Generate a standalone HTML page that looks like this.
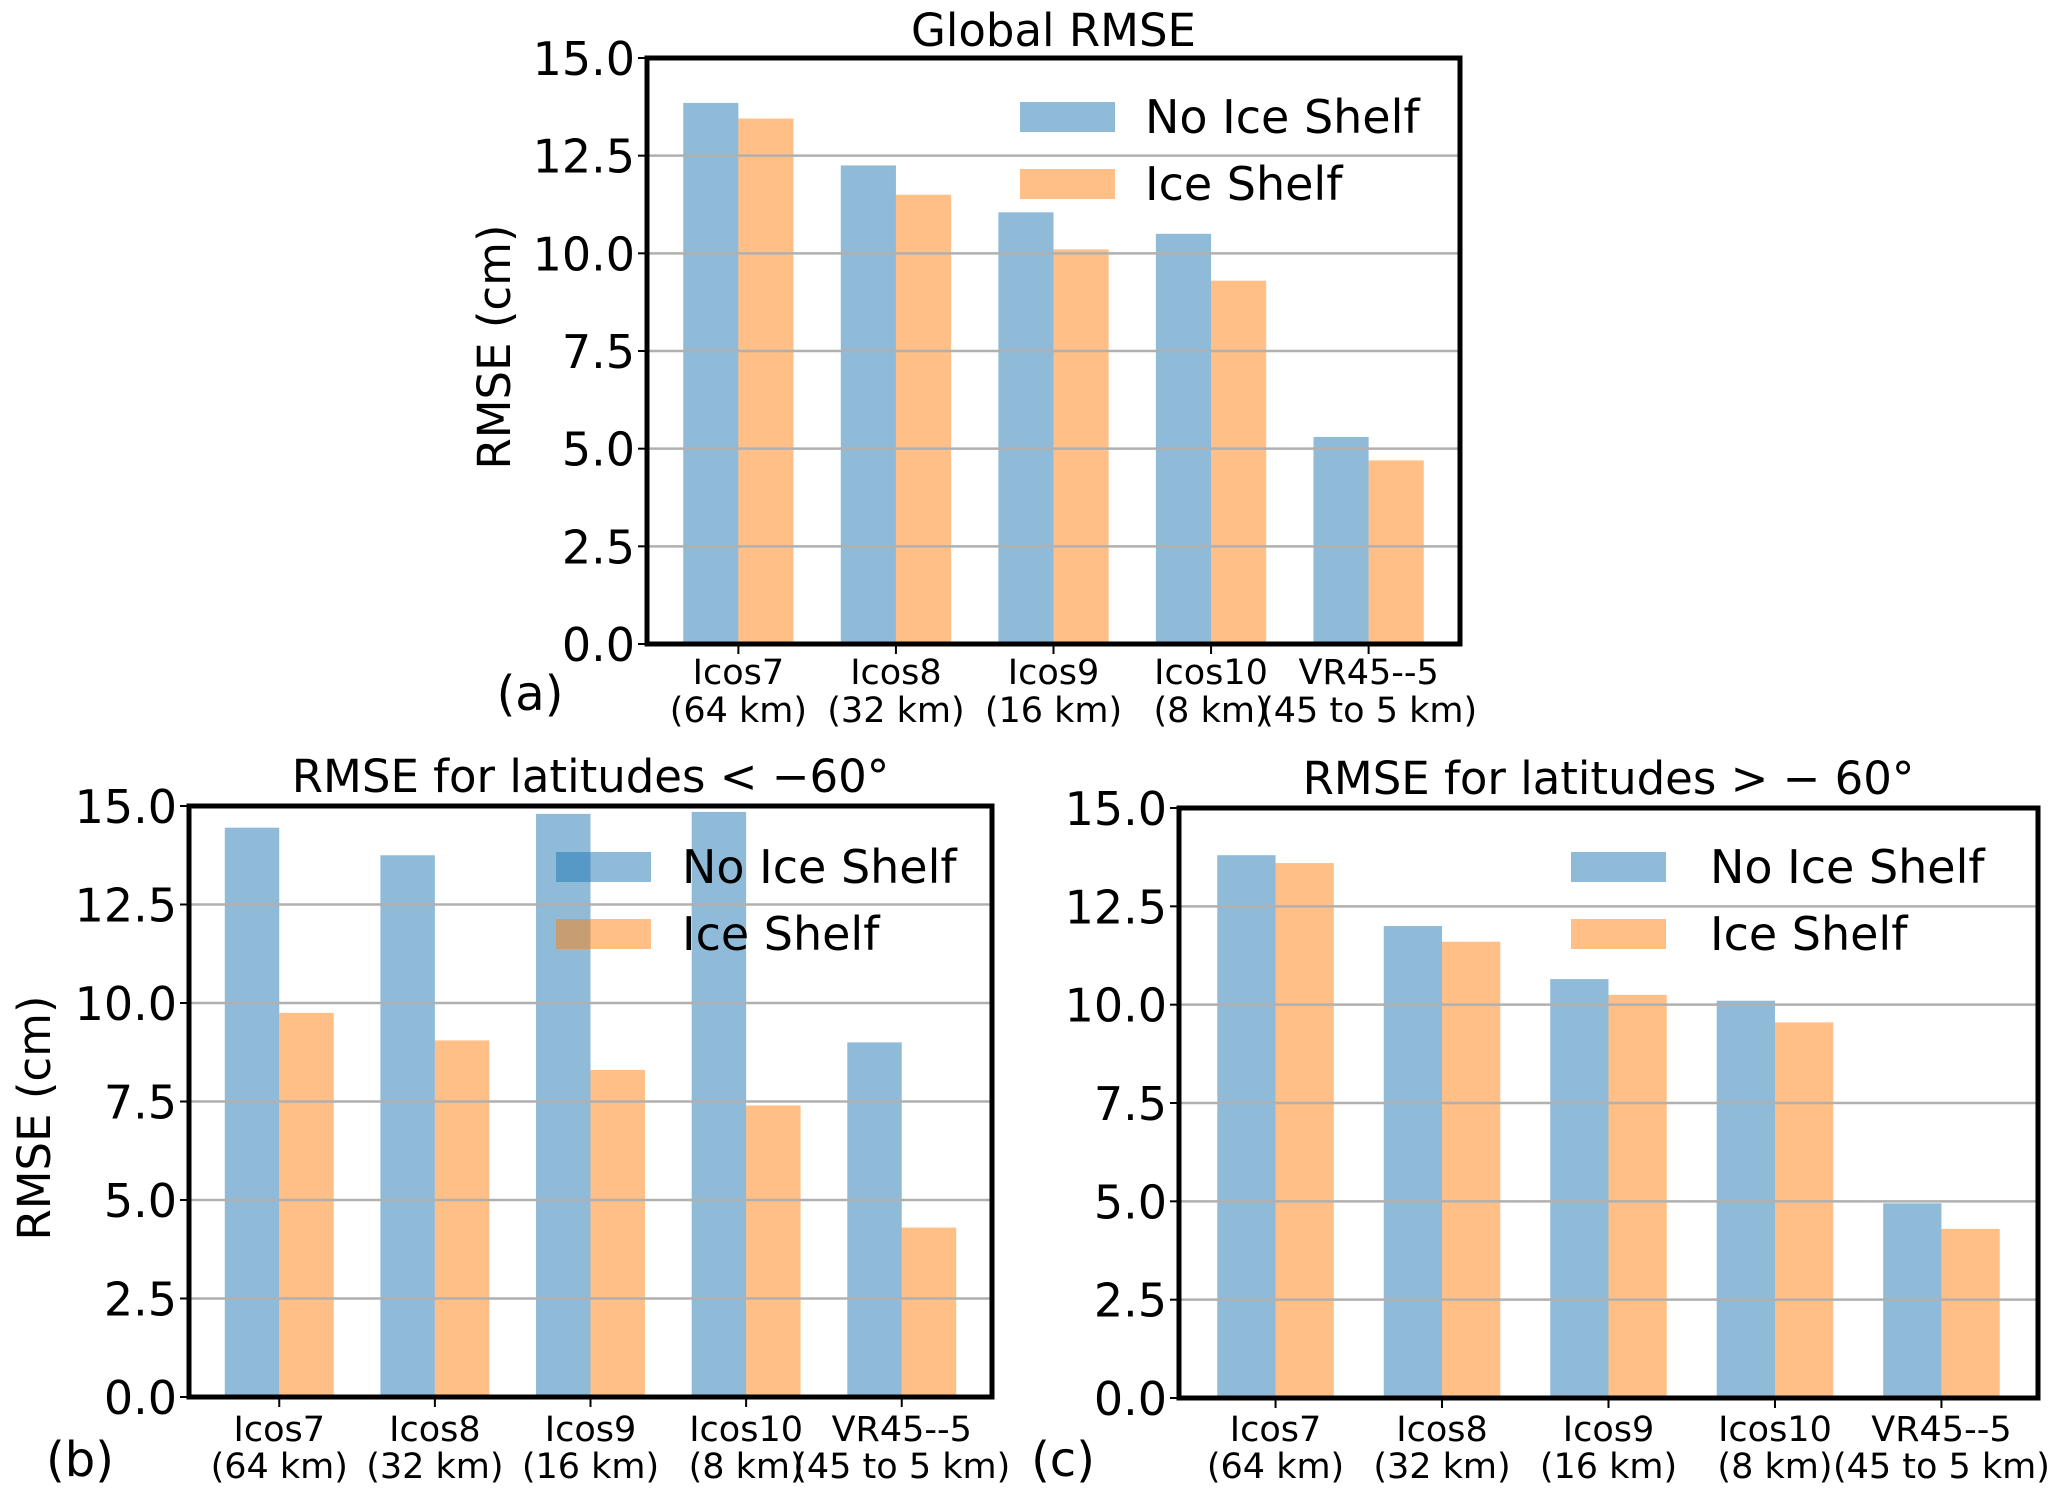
<!DOCTYPE html>
<html><head><meta charset="utf-8"><style>
html,body{margin:0;padding:0;background:#fff;}
svg{display:block;font-family:"DejaVu Sans","Liberation Sans",sans-serif;}
</style></head><body>
<svg id="fig" width="2067" height="1492" viewBox="0 0 2067 1492" xmlns="http://www.w3.org/2000/svg"></svg>
<script>
const categories = ["Icos7|(64 km)", "Icos8|(32 km)", "Icos9|(16 km)", "Icos10|(8 km)", "VR45--5|(45 to 5 km)"];
const yTicks = [0, 2.5, 5, 7.5, 10, 12.5, 15];
const yTickLabels = ["0.0", "2.5", "5.0", "7.5", "10.0", "12.5", "15.0"];
const globalNoIce = [13.85, 12.25, 11.05, 10.5, 5.3];
const globalIce = [13.45, 11.5, 10.1, 9.3, 4.7];
const southNoIce = [14.45, 13.75, 14.8, 14.85, 9.0];
const southIce = [9.75, 9.05, 8.3, 7.4, 4.3];
const northNoIce = [13.8, 12.0, 10.65, 10.1, 4.95];
const northIce = [13.6, 11.6, 10.25, 9.55, 4.3];

const NS = "http://www.w3.org/2000/svg";
const svg = document.getElementById("fig");
function mk(tag, attrs, parent, text) {
  const e = document.createElementNS(NS, tag);
  for (const k in attrs) e.setAttribute(k, attrs[k]);
  if (text !== undefined) e.textContent = text;
  (parent || svg).appendChild(e);
  return e;
}

const panels = [
  {id:"a", L:647, R:1460, T:58, B:644, title:"Global RMSE", titleY:46, blue:globalNoIce, orange:globalIce,
   leg:{x:1020, y1:102, y2:169, tx:1145}, ylab:{x:510, y:347}, plab:{x:530, y:710}, lab1:684, lab2:722},
  {id:"b", L:189, R:992, T:806, B:1397, title:"RMSE for latitudes  < \u221260\u00b0", titleY:792, blue:southNoIce, orange:southIce,
   leg:{x:556, y1:852, y2:919, tx:682}, ylab:{x:50, y:1118}, plab:{x:80, y:1476}, lab1:1441, lab2:1478},
  {id:"c", L:1179, R:2038, T:808, B:1398, title:"RMSE for latitudes  > \u2212 60\u00b0", titleY:794, blue:northNoIce, orange:northIce,
   leg:{x:1571, y1:852, y2:919, tx:1710}, ylab:null, plab:{x:1063, y:1476}, lab1:1441, lab2:1478}
];

panels.forEach(p => {
  const g = mk("g", {});
  
  
  const xmin = -0.58, xmax = 4.58;
  const xs = v => p.L + (v - xmin) / (xmax - xmin) * (p.R - p.L);
  const ys = v => p.B - v / 15 * (p.B - p.T);
  const w = 0.35;
  p.blue.forEach((v, i) => {
    const r = mk("rect", {x: xs(i - w), y: ys(v), width: xs(i) - xs(i - w), height: p.B - ys(v), fill: "#1f77b4", "fill-opacity": 0.5}, g);
    
    
  });
  p.orange.forEach((v, i) => {
    const r = mk("rect", {x: xs(i), y: ys(v), width: xs(i + w) - xs(i), height: p.B - ys(v), fill: "#ff7f0e", "fill-opacity": 0.5}, g);
    
    
  });
  yTicks.forEach((t, i) => {
    const y = ys(t);
    if (i > 0 && i < yTicks.length - 1) {
      const gl = mk("line", {x1: p.L, x2: p.R, y1: y, y2: y, stroke: "#b0b0b0", "stroke-width": 2.5}, g);
      
      
    }
    mk("line", {x1: p.L - 9, x2: p.L, y1: y, y2: y, stroke: "#000", "stroke-width": 2}, g);
    const tl = mk("text", {x: p.L - 12, y: y + 17, "text-anchor": "end", "font-size": 46, fill: "#000"}, g, yTickLabels[i]);
    
    
  });
  categories.forEach((c, i) => {
    const x = xs(i);
    mk("line", {x1: x, x2: x, y1: p.B, y2: p.B + 10, stroke: "#000", "stroke-width": 2}, g);
    const parts = c.split("|");
    const t1 = mk("text", {x: x, y: p.lab1, "text-anchor": "middle", "font-size": 35}, g, parts[0]);
    
    
    const t2 = mk("text", {x: x, y: p.lab2, "text-anchor": "middle", "font-size": 35}, g, parts[1]);
    
    
  });
  const fr = mk("rect", {x: p.L, y: p.T, width: p.R - p.L, height: p.B - p.T, fill: "none", stroke: "#000", "stroke-width": 5}, g);
  
  
  const ti = mk("text", {x: (p.L + p.R) / 2, y: p.titleY, "text-anchor": "middle", "font-size": 45}, g, p.title);
  
  
  const lg = mk("g", {}, g);
  
  
  mk("rect", {x: p.leg.x, y: p.leg.y1, width: 95, height: 30, fill: "#1f77b4", "fill-opacity": 0.5}, lg);
  mk("text", {x: p.leg.tx, y: p.leg.y1 + 31, "font-size": 46}, lg, "No Ice Shelf");
  mk("rect", {x: p.leg.x, y: p.leg.y2, width: 95, height: 30, fill: "#ff7f0e", "fill-opacity": 0.5}, lg);
  mk("text", {x: p.leg.tx, y: p.leg.y2 + 31, "font-size": 46}, lg, "Ice Shelf");
  if (p.ylab) {
    const yl = mk("text", {x: p.ylab.x, y: p.ylab.y, "text-anchor": "middle", "font-size": 45, transform: "rotate(-90 " + p.ylab.x + " " + p.ylab.y + ")"}, g, "RMSE (cm)");
    
    
  }
  const pl = mk("text", {x: p.plab.x, y: p.plab.y, "text-anchor": "middle", "font-size": 48}, g, "(" + p.id + ")");
  
  
});
</script>
</body></html>
